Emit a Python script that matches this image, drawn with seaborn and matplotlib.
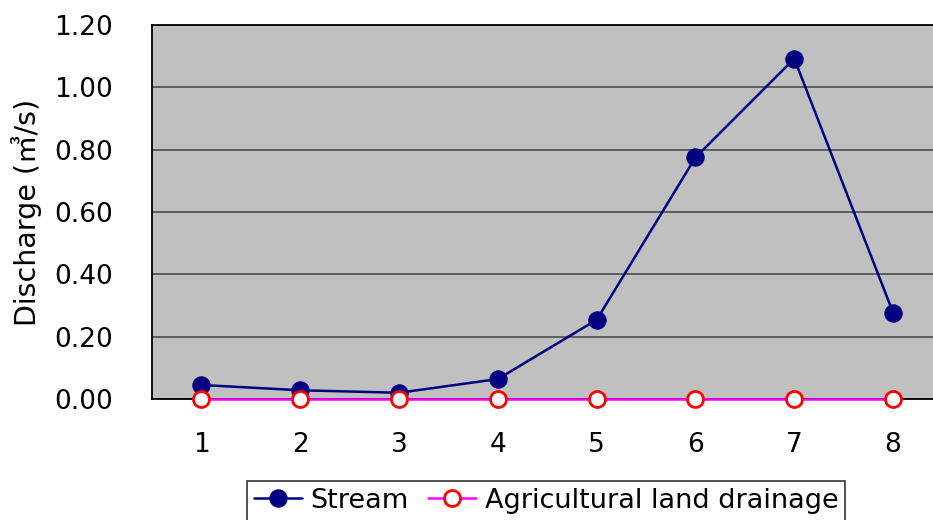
import matplotlib
matplotlib.use("Agg")
import matplotlib.pyplot as plt
import seaborn as sns
import pandas as pd
import numpy as np

categories = [1, 2, 3, 4, 5, 6, 7, 8]
stream = [0.045, 0.028, 0.020, 0.064, 0.254, 0.775, 1.092, 0.277]
agri = [0.0, 0.0, 0.0, 0.0, 0.0, 0.0, 0.0, 0.0]
y_ticks = [0.0, 0.2, 0.4, 0.6, 0.8, 1.0, 1.2]
y_tick_labels = ["0.00", "0.20", "0.40", "0.60", "0.80", "1.00", "1.20"]
series_names = ["Stream", "Agricultural land drainage"]

sns.set_theme(style="white")
plt.rcParams['font.family'] = ['DejaVu Sans', 'Noto Sans CJK KR']

df = pd.DataFrame({
    "x": categories * 2,
    "y": stream + agri,
    "series": [series_names[0]] * len(categories) + [series_names[1]] * len(categories),
})

fig = plt.figure(figsize=(9.33, 5.2), dpi=100)
ax = fig.add_axes([152 / 933, 1 - 399 / 520, (942.5 - 152) / 933, (399 - 25) / 520])
ax.set_facecolor("#c0c0c0")

sns.lineplot(data=df[df.series == series_names[0]], x="x", y="y", ax=ax,
             color="#000080", lw=1.8, marker="o", markersize=12.5,
             markerfacecolor="#000080", markeredgecolor="#000080",
             label=series_names[0], zorder=3)
sns.lineplot(data=df[df.series == series_names[1]], x="x", y="y", ax=ax,
             color="#ff00ff", lw=1.8, marker="o", markersize=11.5,
             markerfacecolor="white", markeredgecolor="#ff0000", markeredgewidth=2,
             label=series_names[1], zorder=4, clip_on=False)

ax.set_xlim(0.5, 8.5)
ax.set_ylim(0, 1.2)
ax.set_yticks(y_ticks)
ax.set_yticklabels(y_tick_labels)
ax.set_xticks(categories)
ax.set_xticklabels([str(c) for c in categories])
ax.set_xticks([c + 0.5 for c in categories[:-1]], minor=True)
ax.tick_params(axis="x", which="major", length=0, labelsize=19, pad=24, colors="black")
ax.tick_params(axis="x", which="minor", length=8, width=1, direction="in", color="black")
ax.tick_params(axis="y", which="major", length=8, width=1, direction="in", labelsize=19, pad=28, colors="black")
ax.yaxis.grid(True, color="#555555", lw=1.3)
ax.set_axisbelow(True)

for s in ["left", "bottom", "top"]:
    ax.spines[s].set_color("black")
    ax.spines[s].set_linewidth(1.3)
ax.spines["right"].set_visible(False)

ax.set_xlabel("")
ax.set_ylabel("Discharge (㎥/s)", fontsize=20.5, color="black")
ax.yaxis.set_label_coords(-(152 - 42) / (942.5 - 152), 0.5)

handles, labels = ax.get_legend_handles_labels()
ax.get_legend().remove()
leg = fig.legend(handles, labels, loc="upper center", bbox_to_anchor=(546 / 933, 1 - 481 / 520),
                 ncol=2, fontsize=19.5, frameon=True, fancybox=False, edgecolor="black",
                 handlelength=1.8, handletextpad=0.3, columnspacing=0.7,
                 borderpad=0.25, borderaxespad=0, labelcolor="black")
leg.get_frame().set_linewidth(1.2)

fig.savefig("out.png", dpi=100)
